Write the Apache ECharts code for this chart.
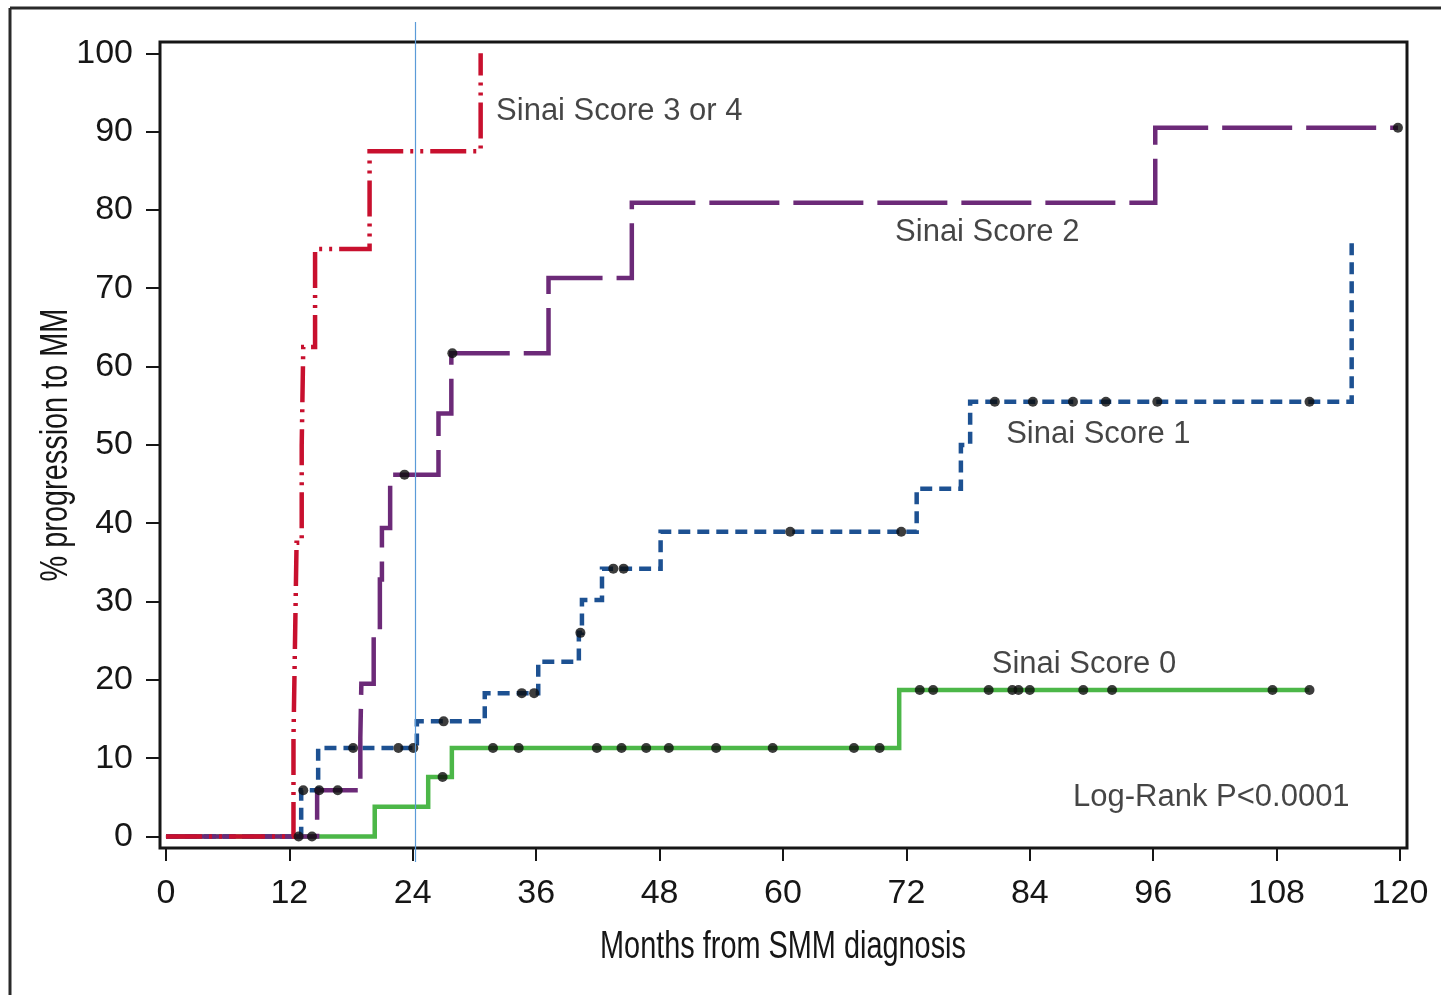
<!DOCTYPE html>
<html>
<head>
<meta charset="utf-8">
<title>Progression to MM by Sinai Score</title>
<script src="https://cdn.jsdelivr.net/npm/echarts@6/dist/echarts.min.js"></script>
<style>
  html, body { margin: 0; padding: 0; background: #ffffff; }
  #chart { width: 1441px; height: 995px; }
</style>
</head>
<body>
<div id="chart"></div>
<script>
// Axis tick values
const xTicks = [0, 12, 24, 36, 48, 60, 72, 84, 96, 108, 120];
const yTicks = [0, 10, 20, 30, 40, 50, 60, 70, 80, 90, 100];

// Axis titles
const xTitle = 'Months from SMM diagnosis';
const yTitle = '% progression to MM';

// Kaplan-Meier steps: time (months) of each event and % progressed after it
const score34Times = [0, 12.4, 12.55, 12.7, 13.2, 13.35, 14.5, 19.8, 30.6];
const score34Pct   = [0, 12.5, 25, 37.5, 50, 62.5, 75, 87.5, 100];
const score34Censor = [];

const score2Times = [0, 14.7, 18.9, 19.0, 20.2, 20.8, 21.0, 21.8, 26.5, 27.75, 37.2, 45.3, 96.2, 119.8];
const score2Pct   = [0, 5.9, 12.6, 19.5, 26.3, 32.8, 39.4, 46.2, 54.0, 61.7, 71.3, 80.9, 90.5, 90.5];
const score2Censor = [14.2, 14.9, 16.7, 23.2, 27.85, 119.8];

const score1Times = [0, 13.15, 14.8, 24.4, 31.0, 36.2, 40.15, 40.45, 42.4, 48.1, 73.0, 77.3, 78.2, 115.3];
const score1Pct   = [0, 5.9, 11.3, 14.7, 18.3, 22.3, 26.0, 30.2, 34.2, 38.9, 44.4, 50.0, 55.5, 76.5];
const score1Censor = [12.9, 13.35, 18.2, 22.6, 24.05, 27.0, 34.6, 35.8, 40.3, 43.5, 44.5,
                      60.7, 71.5, 80.6, 84.3, 88.2, 91.4, 96.4, 111.2];

const score0Times = [0, 20.3, 25.5, 27.8, 71.3, 111.2];
const score0Pct   = [0, 3.8, 7.6, 11.3, 18.7, 18.7];
const score0Censor = [26.9, 31.8, 34.3, 41.9, 44.3, 46.7, 48.9, 53.5, 59.0, 66.9, 69.4,
                      73.3, 74.6, 80.0, 82.3, 82.9, 84.0, 89.2, 92.0, 107.6, 111.2];

// Curve labels and the test result, placed in data units (left edge, vertical middle)
const noteText = ['Sinai Score 3 or 4', 'Sinai Score 2', 'Sinai Score 1', 'Sinai Score 0', 'Log-Rank P<0.0001'];
const noteX    = [32.1, 70.9, 81.7, 80.3, 88.2];
const noteY    = [92.6, 77.1, 51.3, 22.0, 5.0];

const FONT = '"Liberation Sans", Arial, Helvetica, sans-serif';
const INK = '#161616';

function stepPoints(times, pct) {
  return times.map((t, i) => [t, pct[i]]);
}
// value of a step curve just after time t
function levelAt(times, pct, t) {
  let v = pct[0];
  for (let i = 0; i < times.length; i++) if (times[i] <= t) v = pct[i];
  return v;
}
function censorPoints(censor, times, pct) {
  return censor.map(t => [t, levelAt(times, pct, t)]);
}

const curve = (name, times, pct, color, dash, z) => ({
  name, type: 'line', step: 'end', showSymbol: false, symbol: 'none',
  data: stepPoints(times, pct), z,
  lineStyle: { color, width: 4.5, type: dash, cap: 'butt', join: 'miter' },
  emphasis: { disabled: true }, silent: true
});

const censorData = [].concat(
  censorPoints(score0Censor, score0Times, score0Pct),
  censorPoints(score1Censor, score1Times, score1Pct),
  censorPoints(score2Censor, score2Times, score2Pct),
  censorPoints(score34Censor, score34Times, score34Pct)
);

const chart = echarts.init(document.getElementById('chart'), null, { renderer: 'canvas' });

// condensed axis titles: regular face squeezed horizontally
const titleStyle = { fill: INK, fontFamily: FONT, fontSize: 38, align: 'center', verticalAlign: 'middle' };

chart.setOption({
  animation: false,
  backgroundColor: '#ffffff',
  grid: {
    left: 160, right: 34, top: 42, bottom: 147,
    show: true, borderColor: INK, borderWidth: 3, backgroundColor: '#ffffff'
  },
  xAxis: {
    type: 'value', min: -0.58, max: 120.68,
    axisLine: { show: false, onZero: false },
    splitLine: { show: false },
    axisTick: { show: true, customValues: xTicks, length: 13, lineStyle: { color: INK, width: 2 } },
    axisLabel: { customValues: xTicks, margin: 29, fontSize: 34, fontFamily: FONT, color: INK }
  },
  yAxis: {
    type: 'value', min: -1.47, max: 101.44,
    axisLine: { show: false, onZero: false },
    splitLine: { show: false },
    axisTick: { show: true, customValues: yTicks, length: 14, lineStyle: { color: INK, width: 2 } },
    axisLabel: { customValues: yTicks, margin: 27, fontSize: 34, fontFamily: FONT, color: INK }
  },
  series: [
    curve('Sinai Score 0', score0Times, score0Pct, '#4cb748', 'solid', 2),
    curve('Sinai Score 1', score1Times, score1Pct, '#1d5192', [12, 7], 3),
    curve('Sinai Score 2', score2Times, score2Pct, '#6c2a78', [70, 14], 4),
    curve('Sinai Score 3 or 4', score34Times, score34Pct, '#c8102e', [36, 7, 3, 7, 3, 7], 5),
    {
      name: 'Censored', type: 'scatter', data: censorData, z: 6,
      symbol: 'circle', symbolSize: 10,
      itemStyle: { color: '#0d0d0d' }, silent: true
    },
    {
      name: 'notes', type: 'scatter', symbolSize: 0, z: 7, silent: true,
      data: noteText.map((t, i) => ({ name: t, value: [noteX[i], noteY[i]] })),
      label: {
        show: true, position: 'right', distance: 0,
        formatter: p => p.name,
        fontFamily: FONT, fontSize: 31, color: INK
      }
    }
  ],
  graphic: [
    // outer frame
    { type: 'line', shape: { x1: 10, y1: 8, x2: 1441, y2: 8 }, style: { stroke: '#2a2a2a', lineWidth: 3 }, z: 50 },
    { type: 'line', shape: { x1: 10, y1: 8, x2: 10, y2: 995 }, style: { stroke: '#2a2a2a', lineWidth: 3 }, z: 50 },
    // axis titles
    { type: 'text', x: 783, y: 948, scaleX: 0.76, style: Object.assign({ text: xTitle }, titleStyle), z: 50 },
    { type: 'text', x: 57, y: 445, rotation: Math.PI / 2, scaleX: 0.76, style: Object.assign({ text: yTitle }, titleStyle), z: 50 },
    // thin blue guide line near 24 months
    { type: 'line', shape: { x1: 415.5, y1: 22, x2: 415.5, y2: 862 }, style: { stroke: '#5b9bd8', lineWidth: 1.2 }, z: 100 }
  ]
});
</script>
</body>
</html>
